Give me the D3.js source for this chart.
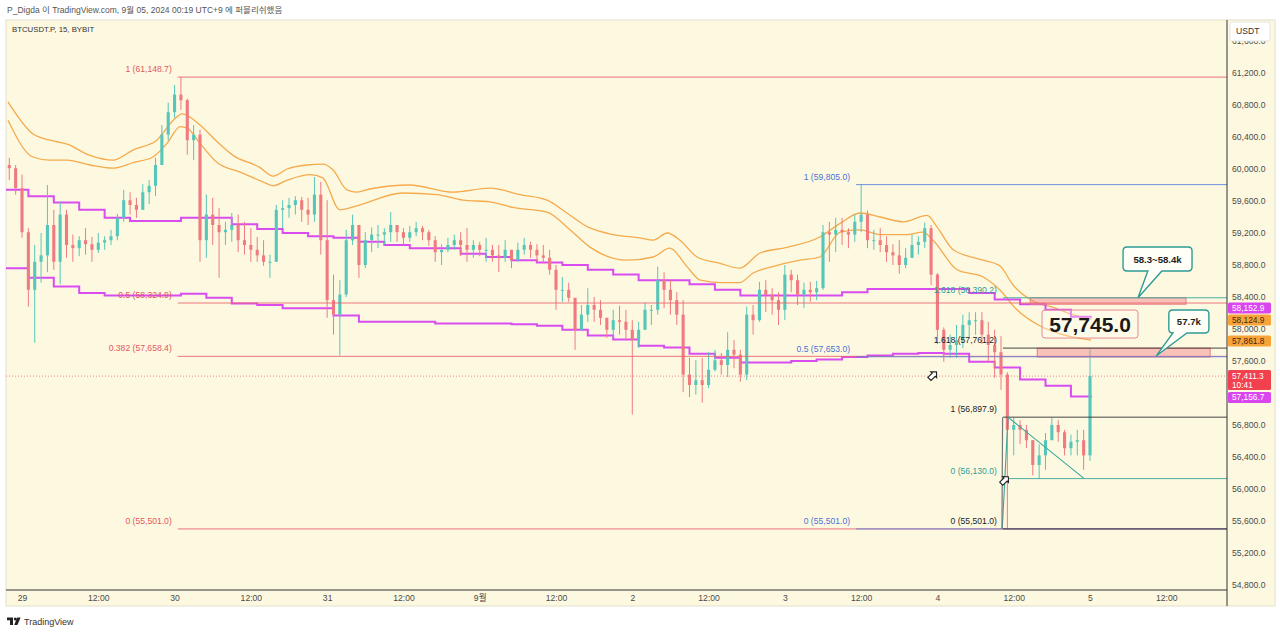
<!DOCTYPE html>
<html><head><meta charset="utf-8">
<script src="https://cdn.jsdelivr.net/npm/d3@7"></script>
<style>
html,body{margin:0;padding:0;background:#fff;}
svg{display:block;font-family:"Liberation Sans","Noto Sans CJK KR",sans-serif;}
</style></head><body>
<svg id="chart" width="1280" height="634"></svg>
<script>
// ---------------- DATA ----------------
// hourly candles, first candle at hour -2 (Aug 28 22:00, UTC+9); hour 0 = Aug 29 00:00
const candleFirstHour = -2;
const firstOpen = 60050;
const highs = [60140,60050,59930,59260,59050,59200,59800,59490,59590,59490,59180,59160,59260,59150,59200,59160,59240,59440,59740,59710,59640,59810,59860,60140,60550,60830,61050,61148.7,60880,60550,60490,59680,59640,59510,59340,59450,59430,59340,59260,59150,59110,58930,59550,59610,59640,59660,59650,59640,59900,59840,59610,58680,58610,59240,59430,59300,59210,59270,59300,59260,59460,59300,59260,59290,59340,59290,59240,59160,59060,59140,59180,59210,59260,59110,59090,59140,59050,59050,59110,58990,59080,59140,59090,59060,59050,58990,58800,58650,58580,58390,58300,58510,58400,58360,58140,58240,58290,58240,58110,58090,58330,58300,58780,58710,58610,58460,58360,57640,57610,57640,57710,57740,57700,57960,57860,57740,58280,58300,58590,58610,58510,58460,58800,58740,58680,58580,58590,58600,59300,59340,59390,59390,59260,59430,59805,59480,59240,59260,59160,59060,59110,59010,59180,59160,59330,59300,58700,58020,57930,58050,58180,58210,58210,58210,58090,57990,57910,57460,56897.9,56860,56800,56610,56560,56700,56890,56860,56740,56680,56740,56740,57745];
const lows = [59860,59680,59140,58280,57830,58580,58710,58740,58560,58890,58840,58910,58930,58840,58950,58990,59050,59110,59340,59430,59390,59490,59560,59660,60050,60360,60640,60740,60180,60110,58840,58890,59050,58640,59050,59090,58960,58930,58840,58840,58790,58640,58840,59260,59390,59430,59340,59300,59340,58930,58140,57930,57670,58400,59050,58640,58760,58960,59010,59050,59090,59090,59050,59090,59160,59110,59040,58840,58800,58960,58990,58910,58840,58890,58910,58840,58840,58710,58840,58760,58840,58930,58890,58840,58840,58680,58240,58340,58340,57740,57990,58090,58090,58050,57890,57890,57930,57860,56930,57760,57990,58050,58180,58260,58180,58050,57210,57150,57180,57080,57260,57470,57430,57400,57510,57340,57360,57930,58090,58210,58180,58050,58110,58460,58300,58260,58340,58360,58490,58840,58960,59050,59010,59090,59210,59010,58990,58960,58840,58800,58690,58760,58890,58930,59010,58550,57810,57590,57640,57640,57760,57890,57930,57810,57590,57390,57240,55501,56420,56560,56510,56170,56130,56240,56610,56590,56420,56420,56420,56240,56350];
const closes = [60010,59760,59210,58490,58840,58920,59300,58840,59430,59050,59010,59110,59060,58990,59080,59110,59160,59390,59610,59550,59490,59710,59790,60050,60430,60710,60930,60860,60360,60430,59110,59430,59300,59210,59240,59300,59110,59050,58990,58920,58840,58840,59490,59510,59550,59610,59490,59430,59680,59110,58360,58180,58430,59110,59300,58800,59110,59180,59180,59210,59300,59210,59140,59210,59260,59210,59110,58960,58990,59050,59110,59050,58990,59050,58990,58990,58920,58890,58990,58860,58990,59050,58990,58920,58890,58740,58490,58490,58390,57990,58180,58300,58240,58140,57990,58110,58090,57990,57860,57990,58240,58240,58610,58490,58360,58180,57430,57300,57360,57300,57490,57610,57550,57740,57680,57430,58180,58110,58490,58430,58360,58240,58680,58610,58430,58490,58460,58510,59210,59180,59240,59210,59180,59340,59430,59110,59110,59050,58960,58920,58800,58890,59050,59090,59260,58680,57990,57740,57800,57860,58050,58110,58110,57930,57800,57710,57430,56740,56800,56740,56610,56300,56420,56610,56800,56710,56510,56590,56610,56420,57411.3];

// orange envelope lines (knots: hour, price)
const bandUpperHours = [-2.2,1.7,4.4,7.1,10.7,14.3,17.5,21.2,23.8,25.2,28,30.7,33.2,37.4,39.5,41.7,44.8,47.3,48.9,51.1,52.7,54.7,61,67.8,73.6,78.3,82.6,85.7,88.9,93,97.2,99.3,101.5,103.5,106.2,109.8,112.9,116.1,120.3,125.5,128.7,131.8,135,138.6,142.4,143.9,146.5,151.2,153.8,155.9,159,162.2,165.3,168.2];
const bandUpper = [60840,60440,60360,60310,60170,60110,60240,60360,60610,60690,60550,60340,60170,60020,59910,60000,60050,60060,59990,59740,59710,59750,59800,59710,59760,59680,59610,59450,59280,59180,59140,59110,59200,59110,58900,58820,58760,58950,59020,59150,59320,59450,59400,59340,59420,59280,58990,58860,58790,58550,58350,58270,58180,58124.9];
const bandLowerHours = [-2.2,1.7,4.4,7.1,10.7,14.3,17.5,20.6,22.8,24.9,26,28,30.7,34.3,37.9,39.5,41.7,45.3,47.3,50,52.7,59.9,65.3,69.4,73.6,77.2,82.6,86.2,89.4,95.2,99.3,101.9,104.6,106.7,109.8,112.9,115,118.1,122.4,125.5,128.7,131.8,135,139.2,141.7,143.3,147.1,151.2,153.8,156.5,160.1,163.3,168.2];
const bandLower = [60610,60150,60110,60110,60050,60010,60080,60150,60320,60530,60510,60320,60080,59960,59840,59790,59860,59930,59890,59490,59540,59700,59680,59610,59590,59520,59460,59240,59020,58860,58900,59010,58780,58610,58580,58580,58700,58780,58860,58900,59210,59240,59180,59180,59210,59110,58740,58650,58490,58240,58040,57940,57861.8];

// magenta 4h step lines (segment start hours)
const stepHours = [-3,1,5,9,13,17,21,25,29,33,37,41,45,49,53,57,61,65,69,73,77,81,85,89,93,97,101,105,109,113,117,121,125,129,133,137,141,145,149,153,157,161,165];
const stepEndHour = 168.3;
const magentaUpper = [59740,59660,59580,59490,59390,59350,59350,59390,59390,59310,59250,59200,59160,59140,59090,59050,59010,59010,58940,58900,58860,58830,58800,58740,58680,58610,58610,58560,58490,58420,58420,58420,58420,58460,58500,58500,58500,58500,58450,58370,58310,58240,58152.9];
const magentaLower = [58760,58640,58530,58450,58420,58420,58420,58440,58390,58320,58300,58260,58260,58170,58090,58090,58090,58070,58070,58070,58060,58040,57990,57920,57870,57790,57770,57690,57640,57580,57580,57600,57620,57650,57670,57690,57700,57690,57590,57520,57370,57290,57156.7];

// fibonacci drawings
const fibRedStart = 24.5, fibRedRatios = ["1","0.5","0.382","0"], fibRedPrices = [61148.7,58324.9,57658.4,55501.0];
const fibBlueStart = 131.2, fibBlueRatios = ["1","0.5","0"], fibBluePrices = [59805.0,57653.0,55501.0];
const fibBlackStart = 154.3, fibBlackRatios = ["1.618","1","0"], fibBlackPrices = [57761.2,56897.9,55501.0];
const fibTealStart = 154.3, fibTealRatios = ["1.618","0"], fibTealPrices = [58390.2,56130.0];
const tealTrendHours = [154.2,155.1,167.1], tealTrendPrices = [55501.0,56897.9,56130.0];
const blackTrendHours = [154.15,154.25], blackTrendPrices = [55501.0,56897.9];

// zones
const zoneHours = [[158.6,183.1],[159.7,186.9]];
const zonePrices = [[58390,58310],[57760,57650]];

// callouts
const calloutTexts = ["58.3~58.4k","57.7k"];
const calloutHours = [[173.2,184.05],[180.4,186.7]];
const calloutPrices = [[59025,58725],[58237,57950]];
const calloutTailHours = [[177.1,179.3],[181.05,183.25]];
const calloutTip = [[175.55,58390],[178.4,57662]];
const bigLabelText = "57,745.0";
const bigLabelHours = [160.45,175.55], bigLabelPrices = [58237,57887];
const markerHours = [143.3,154.6], markerPrices = [57420,56110];

// axes
const priceTicks = [54800,55200,55600,56000,56400,56800,57200,57600,58000,58400,58800,59200,59600,60000,60400,60800,61200,61600];
const timeTickHours = [0,12,24,36,48,60,72,84,96,108,120,132,144,156,168,180];
const timeTickLabels = ["29","12:00","30","12:00","31","12:00","9월","12:00","2","12:00","3","12:00","4","12:00","5","12:00"];
const lastPrice = 57411.3, lastCountdown = "10:41";
const badgeValues = [58152.9,58124.9,57861.8,57156.7];
const badgeKinds = ["magenta","orange","orange","magenta"];

// ---------------- RENDER ----------------
const svg = d3.select("#chart");
const paneL = 6, paneR = 1227, paneT = 20, paneB = 590, frameR = 1275, frameB = 606;
const x = d3.scaleLinear().domain([0,168]).range([22,1090]);
const y = d3.scaleLinear().domain([54800,61200]).range([585,73]);
const C = {bg:"#fdf9e1", up:"#56c6ba", down:"#ef7a80", red:"#ec6670", blue:"#5a7fe0", teal:"#3aa79c",
  black:"#333", orange:"#f5aa4c", magenta:"#d84cf0", text:"#4a4a4a"};

svg.append("rect").attr("width",1280).attr("height",634).attr("fill","#fff");
svg.append("rect").attr("x",paneL).attr("y",paneT).attr("width",frameR-paneL).attr("height",frameB-paneT)
  .attr("fill",C.bg).attr("stroke","#e3e0cc").attr("stroke-width",1);

const defs = svg.append("defs");
defs.append("clipPath").attr("id","pane").append("rect")
  .attr("x",paneL).attr("y",paneT).attr("width",paneR-paneL).attr("height",paneB-paneT);
const g = svg.append("g").attr("clip-path","url(#pane)");

// orange bands
const bandLine = d3.line().x(d=>x(d[0])).y(d=>y(d[1])).curve(d3.curveMonotoneX);
[[bandUpperHours,bandUpper],[bandLowerHours,bandLower]].forEach(([hs,vs])=>{
  g.append("path").attr("d",bandLine(hs.map((h,i)=>[h,vs[i]])))
   .attr("fill","none").attr("stroke",C.orange).attr("stroke-width",1.3);
});
// magenta steps
const stepLine = d3.line().x(d=>x(d[0])).y(d=>y(d[1])).curve(d3.curveStepAfter);
[magentaUpper,magentaLower].forEach(vs=>{
  const pts = stepHours.map((h,i)=>[h,vs[i]]);
  pts.push([stepEndHour, vs[vs.length-1]]);
  g.append("path").attr("d",stepLine(pts)).attr("fill","none")
   .attr("stroke",C.magenta).attr("stroke-width",2);
});

// candles
const bw = 3.1;
const candles = closes.map((c,i)=>({t:candleFirstHour+i, o: i===0?firstOpen:closes[i-1], h:highs[i], l:lows[i], c}));
const cg = g.append("g");
cg.selectAll("line").data(candles).join("line")
  .attr("x1",d=>x(d.t)).attr("x2",d=>x(d.t))
  .attr("y1",d=>y(d.h)).attr("y2",d=>y(d.l))
  .attr("stroke",d=>d.c>=d.o?C.up:C.down).attr("stroke-width",1);
cg.selectAll("rect").data(candles).join("rect")
  .attr("x",d=>x(d.t)-bw/2).attr("width",bw)
  .attr("y",d=>y(Math.max(d.o,d.c)))
  .attr("height",d=>Math.max(1,Math.abs(y(d.o)-y(d.c))))
  .attr("fill",d=>d.c>=d.o?C.up:C.down);

// zones
zoneHours.forEach((hs,i)=>{
  g.append("rect").attr("x",x(hs[0])).attr("width",x(hs[1])-x(hs[0]))
   .attr("y",y(zonePrices[i][0])).attr("height",y(zonePrices[i][1])-y(zonePrices[i][0]))
   .attr("fill","rgba(240,120,130,0.42)").attr("stroke","#e47f86").attr("stroke-width",1);
});

// fib level lines
function fibLines(start, prices, color, op){
  prices.forEach(p=>{
    g.append("line").attr("x1",x(start)).attr("x2",paneR).attr("y1",y(p)).attr("y2",y(p))
     .attr("stroke",color).attr("stroke-width",1).attr("opacity",op);
  });
}
fibLines(fibRedStart, fibRedPrices, C.red, 0.9);
fibLines(fibBlueStart, fibBluePrices, C.blue, 0.85);
fibLines(fibTealStart, fibTealPrices, C.teal, 0.9);
fibLines(fibBlackStart, fibBlackPrices, C.black, 0.9);

// trend lines
g.append("path").attr("d",d3.line()(tealTrendHours.map((h,i)=>[x(h),y(tealTrendPrices[i])])))
  .attr("fill","none").attr("stroke",C.teal).attr("stroke-width",1.1);
g.append("path").attr("d",d3.line()(blackTrendHours.map((h,i)=>[x(h),y(blackTrendPrices[i])])))
  .attr("fill","none").attr("stroke","#777").attr("stroke-width",1.2);

// last price dotted line
g.append("line").attr("x1",paneL).attr("x2",paneR).attr("y1",y(lastPrice)).attr("y2",y(lastPrice))
  .attr("stroke","#ec6670").attr("stroke-width",1).attr("stroke-dasharray","1,2").attr("opacity",0.8);

// fib labels
const fmt = d3.format(",.1f");
function fibLabels(start, ratios, prices, color){
  prices.forEach((p,i)=>{
    svg.append("text").attr("x",x(start)-6).attr("y",y(p)-5)
      .attr("text-anchor","end").attr("font-size",8.6).attr("fill",color)
      .text(`${ratios[i]} (${fmt(p)})`);
  });
}
fibLabels(fibRedStart, fibRedRatios, fibRedPrices, "#e4575f");
fibLabels(fibBlueStart, fibBlueRatios, fibBluePrices, "#4e72d6");
fibLabels(fibTealStart, fibTealRatios, fibTealPrices, "#2f9e92");
fibLabels(fibBlackStart, fibBlackRatios, fibBlackPrices, "#222");

// markers (small arrow icons)
markerHours.forEach((h,i)=>{
  const mx = x(h), my = y(markerPrices[i]);
  svg.append("path").attr("transform",`translate(${mx},${my}) rotate(-45)`)
    .attr("d","M-5,-2.2 L1,-2.2 L1,-4.2 L5,0 L1,4.2 L1,2.2 L-5,2.2 Z")
    .attr("fill","#fff").attr("stroke","#222").attr("stroke-width",1.1);
});

// callouts
function calloutPath(x0,y0,x1,y1,r,tx1,tx2,px,py){
  return `M${x0+r},${y0} H${x1-r} Q${x1},${y0} ${x1},${y0+r} V${y1-r} Q${x1},${y1} ${x1-r},${y1} H${tx2} L${px},${py} L${tx1},${y1} H${x0+r} Q${x0},${y1} ${x0},${y1-r} V${y0+r} Q${x0},${y0} ${x0+r},${y0} Z`;
}
calloutTexts.forEach((t,i)=>{
  const x0=x(calloutHours[i][0]), x1=x(calloutHours[i][1]);
  const y0=y(calloutPrices[i][0]), y1=y(calloutPrices[i][1]);
  svg.append("path").attr("d",calloutPath(x0,y0,x1,y1,4,x(calloutTailHours[i][0]),x(calloutTailHours[i][1]),x(calloutTip[i][0]),y(calloutTip[i][1])))
    .attr("fill","rgba(255,255,250,0.85)").attr("stroke","#2e9c94").attr("stroke-width",1.4);
  svg.append("text").attr("x",(x0+x1)/2).attr("y",(y0+y1)/2+3.5).attr("text-anchor","middle")
    .attr("font-size",9.6).attr("font-weight",600).attr("fill","#222").text(t);
});
{
  const x0=x(bigLabelHours[0]), x1=x(bigLabelHours[1]), y0=y(bigLabelPrices[0]), y1=y(bigLabelPrices[1]);
  svg.append("rect").attr("x",x0).attr("y",y0).attr("width",x1-x0).attr("height",y1-y0).attr("rx",3)
    .attr("fill","rgba(255,253,245,0.35)").attr("stroke","#e38c92").attr("stroke-width",1);
  svg.append("text").attr("x",(x0+x1)/2).attr("y",y1-6).attr("text-anchor","middle")
    .attr("font-size",21).attr("font-weight","bold").attr("fill","#1a1a1a").text(bigLabelText);
}

// axes lines
svg.append("line").attr("x1",paneR).attr("x2",paneR).attr("y1",paneT).attr("y2",frameB).attr("stroke","#333").attr("stroke-width",1);
svg.append("line").attr("x1",paneL).attr("x2",paneR).attr("y1",paneB).attr("y2",paneB).attr("stroke","#333").attr("stroke-width",1);

// badges layout (stacked from bottom to top to avoid overlap)
const bh = 11;
const badgeDefs = badgeValues.map((v,i)=>({v, kind:badgeKinds[i], yc:y(v)}));
badgeDefs.push({v:lastPrice, kind:"last", yc:y(lastPrice)+4, h:20});
badgeDefs.sort((a,b)=>b.yc-a.yc);
let limit = Infinity;
badgeDefs.forEach(b=>{
  b.hh = b.h||bh;
  if(b.kind==="last"){ b.top = Math.min(y(lastPrice)-6, limit - b.hh - 1); }
  else { b.top = Math.min(b.yc - b.hh/2 + 1, limit - b.hh - 1); }
  limit = b.top;
});

// right price axis (tick labels hidden under badges are skipped, as in the reference)
const visibleTicks = priceTicks.filter(v=>!badgeDefs.some(b=>y(v)>=b.top && y(v)<=b.top+b.hh));
const ya = svg.append("g").attr("transform",`translate(${paneR+5},0)`)
  .call(d3.axisRight(y).tickValues(visibleTicks).tickFormat(fmt).tickSize(0).tickPadding(0));
ya.select(".domain").remove();
ya.selectAll("text").attr("font-size",8.6).attr("fill",C.text).attr("font-family","Liberation Sans, sans-serif");

// USDT box
svg.append("rect").attr("x",1230).attr("y",22).attr("width",40).attr("height",19).attr("rx",2)
  .attr("fill","#fff").attr("stroke","#e5e5e5");
svg.append("text").attr("x",1236).attr("y",34).attr("font-size",8.6).attr("fill","#333").text("USDT");

badgeDefs.forEach(b=>{
  const bg = b.kind==="magenta"?"#d946ef":b.kind==="orange"?"#f7a33a":"#f2404f";
  const fg = b.kind==="orange"?"#3a2a10":"#fff";
  svg.append("rect").attr("x",paneR+1).attr("y",b.top).attr("width",43).attr("height",b.hh).attr("rx",1.5).attr("fill",bg);
  svg.append("text").attr("x",paneR+5).attr("y",b.top+8.5).attr("font-size",8.3).attr("fill",fg).text(fmt(b.v));
  if(b.kind==="last") svg.append("text").attr("x",paneR+5).attr("y",b.top+17.5).attr("font-size",8.3).attr("fill",fg).text(lastCountdown);
});

// bottom time axis
const xa = svg.append("g").attr("transform",`translate(0,${paneB})`)
  .call(d3.axisBottom(x).tickValues(timeTickHours).tickFormat((d,i)=>timeTickLabels[i]).tickSize(0).tickPadding(5));
xa.select(".domain").remove();
xa.selectAll("text").attr("font-size",8.6).attr("fill",C.text).attr("font-family","Liberation Sans, Noto Sans CJK KR, sans-serif");

// header / footer
svg.append("text").attr("x",7).attr("y",13).attr("font-size",8.5).attr("fill","#555")
  .text("P_Digda 이 TradingView.com, 9월 05, 2024 00:19 UTC+9 에 퍼블리쉬했음");
svg.append("text").attr("x",12).attr("y",32).attr("font-size",7.8).attr("fill","#333").text("BTCUSDT.P, 15, BYBIT");
const logo = svg.append("g").attr("fill","#222");
logo.append("path").attr("d","M7,617.5 h6 v7.5 h-3 v-4.7 h-3 z");
logo.append("circle").attr("cx",15.3).attr("cy",619).attr("r",1.5);
logo.append("path").attr("d","M17.2,617.5 h3.4 l-3.2,7.5 h-3.2 z");
svg.append("text").attr("x",24).attr("y",625).attr("font-size",9).attr("fill","#333").text("TradingView");
</script>
</body></html>
